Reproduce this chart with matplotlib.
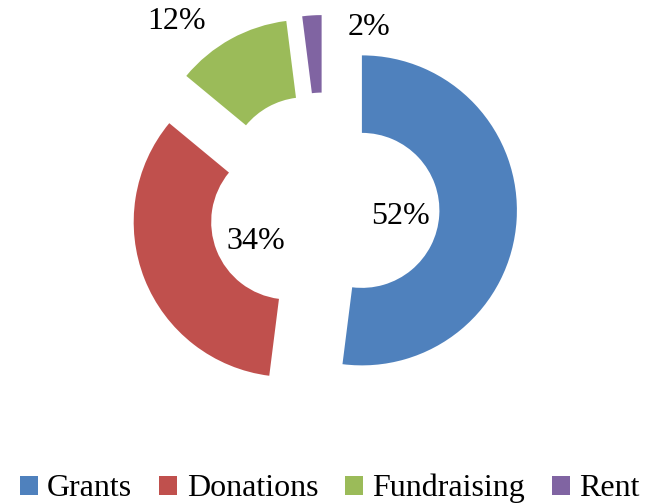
import numpy as np
import matplotlib
matplotlib.use("Agg")
import matplotlib.pyplot as plt
from matplotlib.patches import Patch

# ---- data ----
categories = ["Grants", "Donations", "Fundraising", "Rent"]
shares = [52, 34, 12, 2]
colors = ["#4F81BD", "#C0504D", "#9BBB59", "#8064A2"]

# ---- layout (style only) ----
label_r = [0.25, 0.25, 1.29, 0.97]       # distance of label from exploded slice centre
label_dtheta = [-6.0, 9.0, 11.3, -22.0]  # angular nudge (deg) from slice mid-angle

plt.rcParams["font.family"] = ["Liberation Serif", "DejaVu Serif"]

fig = plt.figure(figsize=(6.6, 5.03), dpi=100)
ax = fig.add_axes([0, 0, 1, 1])

wedges, _ = ax.pie(shares, colors=colors, startangle=90, counterclock=False,
                   explode=[0.245] * len(shares), radius=1.0,
                   wedgeprops=dict(width=0.5, linewidth=0))

for w, s, r, dt in zip(wedges, shares, label_r, label_dtheta):
    mid = np.deg2rad((w.theta1 + w.theta2) / 2 + dt)
    cx, cy = w.center
    ax.text(cx + r * np.cos(mid), cy + r * np.sin(mid), f"{s}%",
            ha="center", va="center", fontsize=23, color="black")

ax.set_aspect("auto")
ax.set_xlim(-324 / 155, (660 - 324) / 155)
ax.set_ylim((208 - 503) / 155, 208 / 155)
ax.axis("off")

handles = [Patch(facecolor=c, edgecolor="none") for c in colors]
fig.legend(handles, categories, loc="lower center", ncol=4, frameon=False,
           fontsize=23, handlelength=0.55, handleheight=0.55, handletextpad=0.3,
           columnspacing=0.85, bbox_to_anchor=(0.5, -0.058))

fig.savefig("out.png", dpi=100)
